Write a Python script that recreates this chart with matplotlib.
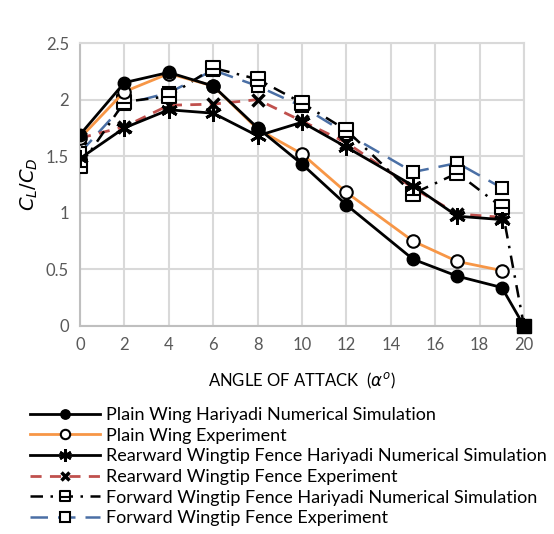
import numpy as np
import matplotlib
matplotlib.use("Agg")
import matplotlib.pyplot as plt
from matplotlib.path import Path

plt.rcParams['font.family'] = ['Lato', 'DejaVu Sans']
plt.rcParams['mathtext.fontset'] = 'dejavusans'

# angle of attack (deg)
aoa_full = [0, 2, 4, 6, 8, 10, 12, 15, 17, 19, 20]
aoa = [0, 2, 4, 6, 8, 10, 12, 15, 17, 19]

# CL/CD values
plain_num = [1.69, 2.15, 2.24, 2.12, 1.75, 1.43, 1.07, 0.59, 0.44, 0.34, 0.0]
plain_exp = [1.66, 2.07, 2.23, 2.12, 1.74, 1.52, 1.18, 0.75, 0.57, 0.49]
rear_num = [1.48, 1.75, 1.91, 1.88, 1.68, 1.80, 1.58, 1.24, 0.97, 0.94]
rear_exp = [1.66, 1.76, 1.95, 1.96, 2.00, 1.81, 1.62, 1.22, 0.99, 0.96]
fwd_num = [1.41, 1.98, 2.03, 2.28, 2.18, 1.97, 1.73, 1.17, 1.35, 1.05, 0.0]
fwd_exp = [1.53, 1.96, 2.06, 2.26, 2.12, 1.94, 1.70, 1.36, 1.44, 1.22]

labels = ["Plain Wing Hariyadi Numerical Simulation",
          "Plain Wing Experiment",
          "Rearward Wingtip Fence Hariyadi Numerical Simulation",
          "Rearward Wingtip Fence Experiment",
          "Forward Wingtip Fence Hariyadi Numerical Simulation",
          "Forward Wingtip Fence Experiment"]

# square with a bar across it
sq_bar = Path([(-1, -1), (1, -1), (1, 1), (-1, 1), (-1, -1), (-1, -0.2), (1, -0.2)],
              [Path.MOVETO, Path.LINETO, Path.LINETO, Path.LINETO, Path.CLOSEPOLY,
               Path.MOVETO, Path.LINETO])

fig = plt.figure(figsize=(5.54, 5.34), dpi=100)
ax = fig.add_axes([80 / 554, 1 - 326 / 534, 444 / 554, 283 / 534])

ax.plot(aoa_full, plain_num, color='black', lw=2, marker='o', ms=9,
        mfc='black', mec='black', label=labels[0], zorder=5)
ax.plot(aoa, plain_exp, color='#F79646', lw=2, marker='o', ms=9,
        mfc='white', mec='black', mew=1.5, label=labels[1], zorder=4)
ax.plot(aoa, rear_num, color='black', lw=2, marker=(6, 2, 0), ms=12,
        mec='black', mew=2, label=labels[2], zorder=4)
ax.plot(aoa, rear_exp, color='#C0504D', lw=2, ls=(0, (4, 3)), marker='x', ms=8,
        mec='black', mew=2.5, label=labels[3], zorder=3)
ax.plot(aoa_full, fwd_num, color='black', lw=1.8, ls=(0, (5, 3, 1, 3)), marker=sq_bar,
        ms=9.5, mfc='white', mec='black', mew=1.5, label=labels[4], zorder=3)
ax.plot(aoa, fwd_exp, color='#4A6FA5', lw=1.8, ls=(0, (7, 4)), marker='s', ms=9,
        mfc='white', mec='black', mew=1.5, label=labels[5], zorder=2)
# filled end point at 20 deg
ax.plot([aoa_full[-1]], [fwd_num[-1]], marker='s', ms=10, color='black', zorder=6,
        clip_on=False)

ax.set_xlim(0, 20)
ax.set_ylim(0, 2.5)
ax.set_xticks(np.arange(0, 21, 2))
ax.set_yticks([0, 0.5, 1, 1.5, 2, 2.5])
ax.set_yticklabels(['0', '0.5', '1', '1.5', '2', '2.5'])
ax.grid(True, color='#D9D9D9', lw=1.5)
ax.set_axisbelow(True)
for s in ['top', 'right']:
    ax.spines[s].set_color('#D9D9D9')
    ax.spines[s].set_linewidth(1.5)
for s in ['left', 'bottom']:
    ax.spines[s].set_color('#BFBFBF')
    ax.spines[s].set_linewidth(1.5)
ax.tick_params(length=0, labelsize=12, colors='#595959', pad=8)
for lab in ax.get_xticklabels() + ax.get_yticklabels():
    lab.set_color('#595959')

ax.set_xlabel(r"ANGLE OF ATTACK  ($\alpha^o$)", fontsize=12, labelpad=13)
ax.set_ylabel(r"$C_L/C_D$", fontsize=14, labelpad=4)

handles, labs = ax.get_legend_handles_labels()
fig.legend(handles, labs, loc='upper left', bbox_to_anchor=(30 / 554, 1 - 407 / 534),
           frameon=False, fontsize=13, handlelength=3.9, handletextpad=0.3,
           labelspacing=0.26, borderaxespad=0, borderpad=0, markerscale=0.75)

fig.savefig("out.png", dpi=100)
